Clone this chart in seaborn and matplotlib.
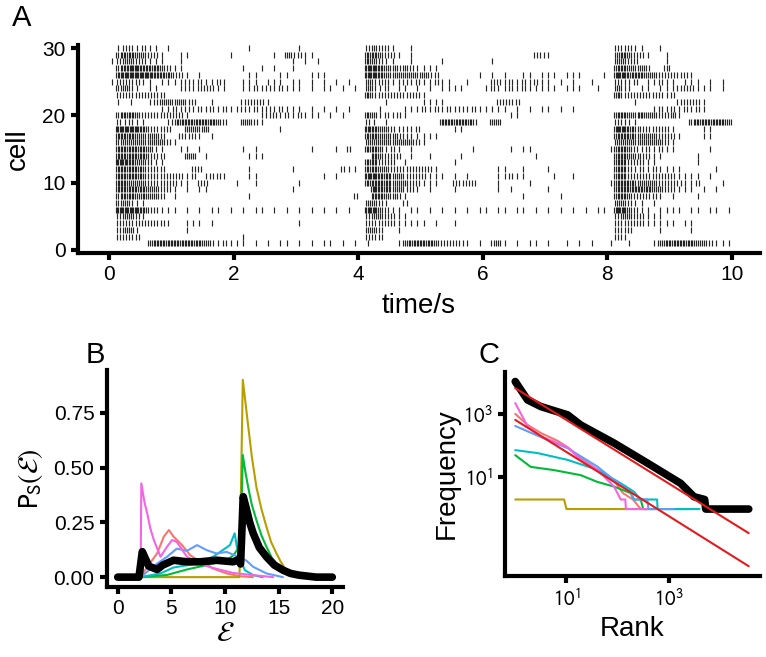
import numpy as np
import pandas as pd
import matplotlib
matplotlib.use("Agg")
import matplotlib.pyplot as plt
import seaborn as sns

# ---- panel A: spike raster, spikes counted per 0.1 s bin (10 bins per block), cell 30 first
cells = list(range(30, 0, -1))
bin_width = 0.1
spike_counts = [
    "0122121101 0000000000 0010000000 1000000000 0232210010 0000000000 0000000000 0000000000 0222110010 0000000000",
    "0344332210 0110000001 0000001032 2110000000 0443221010 0000000000 0000000022 1000000000 0343221001 0000000000",
    "1233221110 0100000000 0000000001 0101000000 0432110010 0001000000 0100000000 0000000000 0332200001 0000000000",
    "0345544432 1100000000 0100101001 0000000000 0554332321 1110000000 0000000000 0000000000 0443332003 0000000000",
    "0455555444 2210100000 0011000110 0011100000 0554333333 3220000001 0101001101 1101110001 0554443322 2221000000",
    "1222211011 1121211210 0111011101 1010101010 0322211212 1121100100 0221212121 1010100100 0221201121 1011101010",
    "0332101100 0121222110 0112121211 1010110101 0321201101 0101111000 1211212111 1101110010 0321011011 1222111010",
    "0222222220 0000000000 0000000000 0000000000 0422222222 1000000000 0000000000 0000000000 0422222221 2000000000",
    "0101001233 3322001000 0222210000 0000000000 0000100000 1111000000 0022220000 0000000000 0000100000 0222210000",
    "0000000011 2121212121 1212121211 1010101010 0001000111 2121212121 1111010101 1010100000 0000000121 2121210000",
    "0344322222 2210000000 0000122121 2111010100 0431212100 0000000000 0000110000 0000000000 0443343322 3100000000",
    "0212110001 3444444320 0332100000 0000000000 0210100000 0004444430 0330000000 0000000000 0221100000 0003444443",
    "0555542222 0033330000 0000000100 0000000000 0543321212 0000011000 0000000000 0000000000 0554322222 1000011000",
    "0444333320 0222101000 0000000000 0000000000 0443332211 1110000000 0000000000 0000000000 0444333322 2100011000",
    "0333333332 1000000000 0000000000 0000000000 0333333332 1000000000 0000000000 0000000000 0333333332 1000000000",
    "0444443110 0110100000 0101000000 0010001020 0443121010 0000000010 0000101100 0000000000 1443212121 1000001000",
    "0444442220 0033010000 0011100000 0000000000 0043222010 0100001000 0000000010 0000000000 0443322110 0000100000",
    "0554332110 0000000000 0000000000 0000000000 0442220100 0000010000 0000000000 0000000000 0442221100 0000100000",
    "0444432220 0002200000 0010000001 0000000211 0443322222 2210000000 0011001000 1000000000 0442121211 1100000100",
    "0444432222 2212012210 0011000000 0000101000 0554433222 2111010100 0011211000 0100100000 0442222222 2111101000",
    "0443332222 2110220000 1001000000 1000000000 0444433322 1110022220 0010000100 0000000000 1444333322 2211200010",
    "0444443322 1010110000 0000000001 0000000000 0054433221 0100010000 0010100000 1000000000 0444444332 2111010100",
    "0344343320 1000000000 0010000000 0000000002 0044332100 0000000000 0000001000 0010000000 0443222210 1000100000",
    "0332110000 0000000000 0000000000 0000000000 0332100200 0000000000 0000000000 0000000000 0332110100 0000000000",
    "0555542211 1010101101 0101101010 1010101010 0553211011 0101010101 1011011010 1010101011 0553211011 1101101101",
    "0233210000 0000000000 0000000000 0000000000 0233221100 0000000000 0000000000 0000000000 0233221110 0000000000",
    "0222222221 0011101000 0000000000 1000000000 0222221111 1010010000 0000000000 0000000000 0222221111 1011000000",
    "0233100000 0010000000 0000000000 0000000000 0332001000 0000000000 0000000000 0000000000 0222000010 0001000000",
    "0222200000 0000000000 0100000000 0000000000 0222000000 0000000000 0000000000 0000000000 0220000000 0000000000",
    "0000003444 4444432121 1101010110 1010110101 0100001344 4432222101 0231010110 1001010100 1001000134 4444332111",
]

# ---- panel B: energy densities per group (x = energy, y = density)
b_red_x = [2.13, 2.75, 3.67, 4.3, 4.77, 5.2, 6.0, 6.76, 7.7, 8.9, 10.15, 11.4, 12.6]
b_red_y = [0, 0.047, 0.108, 0.185, 0.215, 0.185, 0.146, 0.10, 0.07, 0.039, 0.017, 0.004, 0]
b_olive_x = [2.1, 11.35, 11.66, 11.9, 12.16, 12.5, 12.93, 13.4, 13.86, 14.3, 14.8, 15.2, 15.7,
             16.3, 16.9, 18.0]
b_olive_y = [0, 0, 0.90, 0.80, 0.69, 0.55, 0.41, 0.31, 0.23, 0.16, 0.108, 0.07, 0.032,
             0.012, 0.004, 0]
b_green_x = [2.13, 4.6, 6.45, 8.3, 10.15, 10.8, 11.2, 11.45, 11.66, 11.9, 12.16, 12.5, 12.93,
             13.4, 13.86, 14.4, 15.1, 15.7, 16.3, 17.5]
b_green_y = [0, 0.01, 0.035, 0.055, 0.077, 0.10, 0.13, 0.16, 0.557, 0.48, 0.41, 0.33, 0.26,
             0.19, 0.139, 0.085, 0.047, 0.02, 0.009, 0]
b_cyan_x = [2.13, 3.99, 5.2, 7.07, 8.9, 10.46, 10.9, 11.1, 11.45, 11.85, 12.63, 13.5]
b_cyan_y = [0, 0.017, 0.044, 0.059, 0.093, 0.146, 0.20, 0.139, 0.078, 0.032, 0.009, 0]
b_blue_x = [2.13, 3.67, 4.6, 5.5, 6.45, 7.4, 8.3, 9.2, 10.15, 11.1, 12.0, 12.63, 13.86, 15.4]
b_blue_y = [0, 0.062, 0.093, 0.13, 0.12, 0.146, 0.123, 0.108, 0.115, 0.096, 0.075, 0.047, 0.017, 0]
b_magenta_x = [2.13, 2.2, 2.5, 2.75, 3.05, 3.37, 3.99, 4.6, 5.06, 5.5, 6.45, 7.7, 9.2, 10.77,
               12.63, 14.5]
b_magenta_y = [0, 0.428, 0.34, 0.29, 0.22, 0.169, 0.093, 0.139, 0.169, 0.161, 0.093, 0.059,
               0.038, 0.019, 0.009, 0]
b_all_x = [0, 1.98, 2.29, 2.9, 3.67, 4.2, 5.2, 6.45, 7.7, 9.2, 10.77, 11.3, 11.45, 11.7,
           12.0, 12.3, 12.63, 13.2, 13.86, 14.6, 15.4, 16.1, 16.9, 18.5, 20]
b_all_y = [0, 0, 0.116, 0.05, 0.035, 0.055, 0.077, 0.07, 0.07, 0.077, 0.07, 0.081, 0.06, 0.367,
           0.31, 0.25, 0.20, 0.135, 0.093, 0.055, 0.032, 0.017, 0.009, 0, 0]

# ---- panel C: rank / frequency per group
c_red_rank = [1, 1.74, 3.16, 6.8, 10.5, 19, 40, 85, 126, 200, 282, 500]
c_red_freq = [1000, 450, 250, 140, 89, 40, 17.8, 7.9, 3.2, 2, 1, 1]
c_olive_rank = [1, 9, 10, 380]
c_olive_freq = [2, 2, 1, 1]
c_green_rank = [1, 2, 5.6, 19, 40, 85, 178, 209, 282, 316, 2510]
c_green_freq = [50, 21.4, 17, 11.7, 7.2, 5.1, 3.2, 2, 2, 1, 1]
c_cyan_rank = [1, 2.75, 10.5, 40, 115, 209, 282, 589, 603, 3980]
c_cyan_freq = [72, 58, 35.5, 17.4, 6.5, 3.5, 2, 2, 1, 1]
c_blue_rank = [1, 1.74, 4.27, 10.5, 40, 85, 178, 209, 380, 398, 1260]
c_blue_freq = [417, 282, 151, 83, 21.9, 8.3, 3.5, 2, 2, 1, 1]
c_magenta_rank = [1, 1.74, 3.16, 6.8, 10.5, 19, 40, 85, 115, 141, 145, 380]
c_magenta_freq = [2190, 407, 195, 120, 89, 35.5, 17.4, 5.1, 2, 2, 1, 1]
c_all_rank = [1, 1.74, 3.16, 10.5, 19, 85, 380, 1700, 3090, 5000, 5250, 36300]
c_all_freq = [10470, 2750, 1700, 933, 447, 120, 28.2, 6.46, 2.45, 2, 1, 1]
fit_rank = [1, 36300]
fit_all = [6460, 0.174]
fit_groups = [646, 0.0158]

groups = ["1", "2", "3", "4", "5", "6"]
group_colors = ["#F8766D", "#B79F00", "#00BA38", "#00BFC4", "#619CFF", "#F564E3"]

sns.set_theme(style="ticks")
plt.rcParams["font.family"] = ["Liberation Sans", "DejaVu Sans"]
plt.rcParams["mathtext.fontset"] = "stixsans"
plt.rcParams["text.color"] = "black"
plt.rcParams["axes.labelcolor"] = "black"

# build tidy frames
rows = []
for cell, counts in zip(cells, spike_counts):
    counts = counts.replace(" ", "")
    for i, ch in enumerate(counts):
        n = int(ch)
        for k in range(n):
            rows.append((bin_width * (i + (k + 0.5) / n), cell))
raster = pd.DataFrame(rows, columns=["time", "cell"])

b_series = [(b_red_x, b_red_y), (b_olive_x, b_olive_y), (b_green_x, b_green_y),
            (b_cyan_x, b_cyan_y), (b_blue_x, b_blue_y), (b_magenta_x, b_magenta_y)]
dens = pd.concat([pd.DataFrame({"eps": x, "p": y, "group": g})
                  for g, (x, y) in zip(groups, b_series)], ignore_index=True)

c_series = [(c_red_rank, c_red_freq), (c_olive_rank, c_olive_freq), (c_green_rank, c_green_freq),
            (c_cyan_rank, c_cyan_freq), (c_blue_rank, c_blue_freq), (c_magenta_rank, c_magenta_freq)]
rankfreq = pd.concat([pd.DataFrame({"rank": x, "freq": y, "group": g})
                      for g, (x, y) in zip(groups, c_series)], ignore_index=True)
fits = pd.DataFrame({"rank": fit_rank * 2, "freq": fit_all + fit_groups,
                     "fit": ["all"] * 2 + ["groups"] * 2})

fig = plt.figure(figsize=(7.66, 6.57), dpi=100)
W, H = 766, 657
axA = fig.add_axes([78 / W, 1 - 253 / H, 682 / W, 208 / H])
axB = fig.add_axes([107 / W, 1 - 587 / H, 236 / W, 217 / H])
axC = fig.add_axes([505 / W, 1 - 576 / H, 255 / W, 204 / H])

# A
sns.scatterplot(data=raster, x="time", y="cell", marker="|", s=18, linewidth=0.85,
                color="black", alpha=0.85, ax=axA, legend=False)
axA.set_xlim(-0.5, 10.45)
axA.set_ylim(-0.45, 30.45)
axA.set_xticks([0, 2, 4, 6, 8, 10])
axA.set_yticks([0, 10, 20, 30])
axA.set_xlabel("time/s", labelpad=6)
axA.set_ylabel("cell", labelpad=8)

# B
pal = dict(zip(groups, group_colors))
sns.lineplot(data=dens, x="eps", y="p", hue="group", palette=pal, estimator=None,
             sort=False, linewidth=1.5, ax=axB, legend=False)
sns.lineplot(x=b_all_x, y=b_all_y, color="black", linewidth=5.5, estimator=None,
             sort=False, ax=axB)
axB.set_xlim(-1, 21)
axB.set_ylim(-0.045, 0.945)
axB.set_xticks([0, 5, 10, 15, 20])
axB.set_yticks([0, 0.25, 0.5, 0.75])
axB.set_yticklabels(["0.00", "0.25", "0.50", "0.75"])
axB.set_xlabel(r"$\mathcal{E}$", labelpad=2)
axB.set_ylabel(r"$\mathrm{P_S}(\mathcal{E})$", labelpad=6)

# C
sns.lineplot(data=rankfreq, x="rank", y="freq", hue="group", palette=pal, estimator=None,
             sort=False, linewidth=1.5, ax=axC, legend=False)
sns.lineplot(x=c_all_rank, y=c_all_freq, color="black", linewidth=5.5, estimator=None,
             sort=False, ax=axC)
sns.lineplot(data=fits, x="rank", y="freq", units="fit", color="#E41A1C", linewidth=1.5,
             estimator=None, ax=axC)
axC.set_xscale("log")
axC.set_yscale("log")
axC.set_xlim(10 ** -0.2, 10 ** 4.78)
axC.set_ylim(10 ** -2.11, 10 ** 4.32)
axC.set_xticks([10, 1000])
axC.set_xticklabels([r"$10^{1}$", r"$10^{3}$"])
axC.set_yticks([10, 1000])
axC.set_yticklabels([r"$10^{1}$", r"$10^{3}$"])
axC.minorticks_off()
axC.set_xlabel("Rank", labelpad=4)
axC.set_ylabel("Frequency", labelpad=2)

for ax in (axA, axB, axC):
    sns.despine(ax=ax)
    for side in ("left", "bottom"):
        ax.spines[side].set_linewidth(3)
        ax.spines[side].set_color("black")
    ax.tick_params(axis="both", which="major", direction="out", length=5, width=3,
                   color="black", labelcolor="black", labelsize=15, pad=4)
    ax.xaxis.label.set_size(20)
    ax.yaxis.label.set_size(20)
    ax.grid(False)

fig.text(12 / W, 1 - 4 / H, "A", fontsize=21, va="top", ha="left")
fig.text(86 / W, 1 - 341 / H, "B", fontsize=21, va="top", ha="left")
fig.text(479 / W, 1 - 341 / H, "C", fontsize=21, va="top", ha="left")

fig.savefig("out.png", dpi=100)
